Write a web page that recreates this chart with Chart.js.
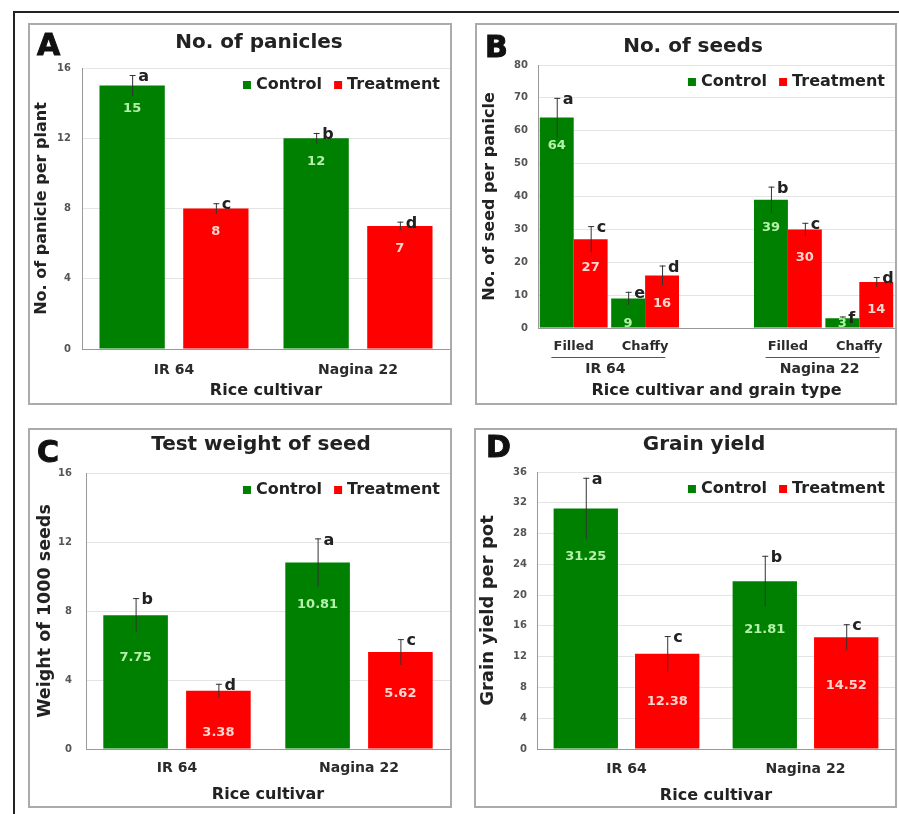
<!DOCTYPE html>
<html>
<head>
<meta charset="utf-8">
<script src="https://cdn.jsdelivr.net/npm/chart.js@4.4.1/dist/chart.umd.min.js"></script>
<style>
  body { margin: 0; background: #fff; width: 899px; height: 814px; overflow: hidden; }
  #frame { position: absolute; left: 13px; top: 11px; width: 886px; height: 803px; border-left: 2px solid #222; border-top: 2px solid #222; }
  .panel { position: absolute; border: 2px solid #ababab; box-sizing: border-box; background: #fff; }
  .box { position: absolute; left: 0; top: 0; right: 0; bottom: 0; }
  .tag { position: absolute; font: bold 30px/30px "DejaVu Sans", sans-serif; color: #111; -webkit-text-stroke: 1px #111; }
  .ttl { position: absolute; width: 300px; text-align: center; font: bold 20px/20px "DejaVu Sans", sans-serif; color: #222; }
</style>
</head>
<body>
<div id="frame"></div>

<div class="panel" style="left:28px;top:23px;width:424px;height:382px">
  <div class="box"><canvas id="panicleChart"></canvas></div>
  <div class="tag" style="left:7px;top:5px">A</div>
  <div class="ttl" style="left:79px;top:6px">No. of panicles</div>
</div>
<div class="panel" style="left:475px;top:23px;width:422px;height:382px">
  <div class="box"><canvas id="seedChart"></canvas></div>
  <div class="tag" style="left:8px;top:7px">B</div>
  <div class="ttl" style="left:66px;top:10px">No. of seeds</div>
</div>
<div class="panel" style="left:28px;top:428px;width:424px;height:380px">
  <div class="box"><canvas id="weightChart"></canvas></div>
  <div class="tag" style="left:7px;top:7px">C</div>
  <div class="ttl" style="left:81px;top:3px">Test weight of seed</div>
</div>
<div class="panel" style="left:474px;top:428px;width:423px;height:380px">
  <div class="box"><canvas id="yieldChart"></canvas></div>
  <div class="tag" style="left:10px;top:2px">D</div>
  <div class="ttl" style="left:78px;top:3px">Grain yield</div>
</div>

<script>
// cultivars
const cultivars = ["IR 64", "Nagina 22"];

// A - panicles per plant
const panicleControl = [15, 12];
const panicleTreatment = [8, 7];
const panicleControlErr = [0.6, 0.3];
const panicleTreatmentErr = [0.3, 0.25];
const panicleControlLetters = ["a", "b"];
const panicleTreatmentLetters = ["c", "d"];

// B - seeds per panicle (Filled / Chaffy for each cultivar)
const grainTypes = ["Filled", "Chaffy"];
const seedControl = [64, 9, 39, 3];
const seedTreatment = [27, 16, 30, 14];
const seedControlErr = [6, 2, 4, 0.5];
const seedTreatmentErr = [4, 3, 2, 1.5];
const seedControlLetters = ["a", "e", "b", "f"];
const seedTreatmentLetters = ["c", "d", "c", "d"];

// C - weight of 1000 seeds
const weightControl = [7.75, 10.81];
const weightTreatment = [3.38, 5.62];
const weightControlErr = [1.0, 1.4];
const weightTreatmentErr = [0.4, 0.75];
const weightControlLetters = ["b", "a"];
const weightTreatmentLetters = ["d", "c"];

// D - grain yield per pot
const yieldControl = [31.25, 21.81];
const yieldTreatment = [12.38, 14.52];
const yieldControlErr = [4, 3.3];
const yieldTreatmentErr = [2.3, 1.7];
const yieldControlLetters = ["a", "b"];
const yieldTreatmentLetters = ["c", "c"];

Chart.defaults.font.family = '"DejaVu Sans", sans-serif';
Chart.defaults.font.weight = "bold";
Chart.defaults.color = "#333";

const GREEN = "#008000";
const RED = "#ff0000";

// error bars, significance letters, values inside bars and the legend
const marks = {
    id: "marks",
    afterDatasetsDraw(chart, args, opts) {
        const ctx = chart.ctx;
        const y = chart.scales.y;
        const area = chart.chartArea;
        chart.data.datasets.forEach((ds, di) => {
            chart.getDatasetMeta(di).data.forEach((bar, i) => {
                const v = ds.data[i];
                if (v == null) return;
                const e = ds.err[i];
                const top = y.getPixelForValue(v + e);
                const bot = y.getPixelForValue(v - e);
                ctx.save();
                ctx.strokeStyle = "#333";
                ctx.lineWidth = 1;
                ctx.beginPath();
                ctx.moveTo(bar.x + 0.5, top);
                ctx.lineTo(bar.x + 0.5, bot);
                ctx.moveTo(bar.x - 2.5, top + 0.5);
                ctx.lineTo(bar.x + 3.5, top + 0.5);
                ctx.stroke();

                const h = bar.base - bar.y;
                ctx.font = 'bold 13px "DejaVu Sans"';
                ctx.fillStyle = ds.valueColor;
                ctx.textAlign = "center";
                ctx.textBaseline = "middle";
                ctx.fillText(String(v), bar.x, bar.y + Math.min(opts.labelOffset, h - 4));

                ctx.font = 'bold 16px "DejaVu Sans"';
                ctx.fillStyle = "#222";
                ctx.textAlign = "left";
                ctx.fillText(ds.letters[i], bar.x + 6, top + 2);
                ctx.restore();
            });
        });

        // legend, top right inside the plot
        ctx.save();
        ctx.font = 'bold 16px "DejaVu Sans"';
        ctx.textBaseline = "middle";
        ctx.textAlign = "left";
        let x = area.right - 10;
        const ly = area.top + 17;
        for (let i = chart.data.datasets.length - 1; i >= 0; i--) {
            const ds = chart.data.datasets[i];
            x -= ctx.measureText(ds.label).width;
            ctx.fillStyle = "#222";
            ctx.fillText(ds.label, x, ly);
            x -= 13;
            ctx.fillStyle = ds.backgroundColor;
            ctx.fillRect(x, ly - 4, 8, 8);
            x -= 12;
        }
        ctx.restore();
    }
};

// cultivar names under the grain type ticks (panel B)
const groups = {
    id: "groups",
    afterDraw(chart, args, opts) {
        const ctx = chart.ctx;
        const xs = chart.scales.x;
        const bottom = chart.chartArea.bottom;
        opts.names.forEach((name, g) => {
            const mid = (xs.getPixelForValue(g * 3) + xs.getPixelForValue(g * 3 + 1)) / 2;
            ctx.save();
            ctx.strokeStyle = "#555";
            ctx.lineWidth = 1;
            ctx.beginPath();
            ctx.moveTo(mid - 58, bottom + 29.5);
            ctx.lineTo(mid + 56, bottom + 29.5);
            ctx.stroke();
            ctx.font = 'bold 14px "DejaVu Sans"';
            ctx.fillStyle = "#2b2b2b";
            ctx.textAlign = "center";
            ctx.textBaseline = "middle";
            ctx.fillText(name, mid - 4, bottom + 41);
            ctx.restore();
        });
    }
};

function barChart(id, p) {
    return new Chart(document.getElementById(id), {
        type: "bar",
        data: {
            labels: p.labels,
            datasets: [{
                label: "Control",
                data: p.control,
                err: p.controlErr,
                letters: p.controlLetters,
                backgroundColor: GREEN,
                valueColor: "#b4f0aa"
            }, {
                label: "Treatment",
                data: p.treatment,
                err: p.treatmentErr,
                letters: p.treatmentLetters,
                backgroundColor: RED,
                valueColor: "#ffd6cf"
            }]
        },
        options: {
            responsive: true,
            maintainAspectRatio: false,
            animation: false,
            layout: { padding: { top: p.top, left: 0, right: 0, bottom: 0 } },
            datasets: { bar: { categoryPercentage: p.catPct, barPercentage: p.barPct } },
            plugins: {
                legend: { display: false },
                tooltip: { enabled: false },
                marks: { labelOffset: p.labelOffset },
                groups: { names: p.groups || [] }
            },
            scales: {
                x: {
                    grid: { display: false, drawTicks: false },
                    border: { color: "#999" },
                    ticks: { font: { size: p.catSize }, color: "#2b2b2b", padding: p.xPad },
                    title: { display: true, text: p.xTitle, font: { size: 16 }, color: "#222", padding: { top: 0, bottom: p.xTitlePad } },
                    afterFit: s => { s.height = p.xHeight; s.paddingLeft = 0; s.paddingRight = 0; }
                },
                y: {
                    min: 0,
                    max: p.max,
                    ticks: { stepSize: p.step, font: { size: 10 }, color: "#555", padding: p.yPad },
                    grid: { color: "#e4e4e4", drawTicks: false },
                    border: { color: "#999" },
                    title: { display: true, text: p.yTitle, font: { size: p.yTitleSize }, color: "#222", padding: { top: p.yTitlePad, bottom: 0 } },
                    afterFit: s => { s.width = p.left; s.paddingTop = 0; s.paddingBottom = 0; }
                }
            }
        },
        plugins: p.groups ? [marks, groups] : [marks]
    });
}

barChart("panicleChart", {
    labels: cultivars,
    control: panicleControl, treatment: panicleTreatment,
    controlErr: panicleControlErr, treatmentErr: panicleTreatmentErr,
    controlLetters: panicleControlLetters, treatmentLetters: panicleTreatmentLetters,
    max: 16, step: 4,
    yTitle: "No. of panicle per plant", yTitleSize: 16, yTitlePad: 2,
    xTitle: "Rice cultivar", xTitlePad: 3,
    top: 43, left: 52, xHeight: 54,
    catPct: 0.91, barPct: 0.78, catSize: 14, xPad: 13, yPad: 11,
    labelOffset: 23
});

const gap = a => [a[0], a[1], null, a[2], a[3]];
barChart("seedChart", {
    labels: [...grainTypes, "", ...grainTypes],
    groups: cultivars,
    control: gap(seedControl), treatment: gap(seedTreatment),
    controlErr: gap(seedControlErr), treatmentErr: gap(seedTreatmentErr),
    controlLetters: gap(seedControlLetters), treatmentLetters: gap(seedTreatmentLetters),
    max: 80, step: 10,
    yTitle: "No. of seed per panicle", yTitleSize: 16, yTitlePad: 3,
    xTitle: "Rice cultivar and grain type", xTitlePad: 3,
    top: 40, left: 61, xHeight: 75,
    catPct: 0.95, barPct: 1.0, catSize: 13, xPad: 11, yPad: 10,
    labelOffset: 28
});

barChart("weightChart", {
    labels: cultivars,
    control: weightControl, treatment: weightTreatment,
    controlErr: weightControlErr, treatmentErr: weightTreatmentErr,
    controlLetters: weightControlLetters, treatmentLetters: weightTreatmentLetters,
    max: 16, step: 4,
    yTitle: "Weight of 1000 seeds", yTitleSize: 17.5, yTitlePad: 5,
    xTitle: "Rice cultivar", xTitlePad: 2,
    top: 43, left: 56, xHeight: 57,
    catPct: 0.91, barPct: 0.78, catSize: 14, xPad: 11, yPad: 14,
    labelOffset: 42
});

barChart("yieldChart", {
    labels: cultivars,
    control: yieldControl, treatment: yieldTreatment,
    controlErr: yieldControlErr, treatmentErr: yieldTreatmentErr,
    controlLetters: yieldControlLetters, treatmentLetters: yieldTreatmentLetters,
    max: 36, step: 4,
    yTitle: "Grain yield per pot", yTitleSize: 18, yTitlePad: 2,
    xTitle: "Rice cultivar", xTitlePad: 1,
    top: 42, left: 61, xHeight: 57,
    catPct: 0.91, barPct: 0.79, catSize: 14, xPad: 12, yPad: 10,
    labelOffset: 48
});
</script>
</body>
</html>
